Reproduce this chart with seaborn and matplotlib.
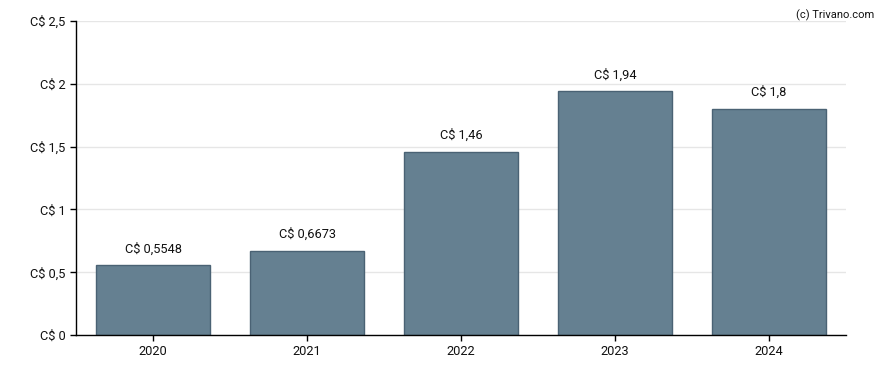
import numpy as np
import pandas as pd
import seaborn as sns
import matplotlib.pyplot as plt

years = ['2020', '2021', '2022', '2023', '2024']
values = [0.5548, 0.6673, 1.46, 1.94, 1.8]
labels = ['C$ 0,5548', 'C$ 0,6673', 'C$ 1,46', 'C$ 1,94', 'C$ 1,8']
yticks = [0, 0.5, 1, 1.5, 2, 2.5]
ytick_labels = ['C$ 0', 'C$ 0,5', 'C$ 1', 'C$ 1,5', 'C$ 2', 'C$ 2,5']

sns.set_style('white')
plt.rcParams['font.family'] = ['Roboto', 'DejaVu Sans']

df = pd.DataFrame({'year': years, 'value': values})

fig = plt.figure(figsize=(8.88, 3.70), dpi=100)
ax = fig.add_axes([0.0856, 0.0946, 0.8671, 0.8486])

sns.barplot(data=df, x='year', y='value', color='#658091', saturation=1,
            edgecolor='#4a6274', linewidth=1, width=0.74, ax=ax, zorder=2)

for i, (v, t) in enumerate(zip(values, labels)):
    ax.text(i, v + 0.08, t, ha='center', va='bottom', fontsize=9.2, color='#111111')

ax.set_xlim(-0.5, 4.5)
ax.set_ylim(0, 2.5)
ax.set_yticks(yticks)
ax.set_yticklabels(ytick_labels)
ax.yaxis.grid(True, color='#e6e6e6', linewidth=1, zorder=0)
ax.set_axisbelow(True)
ax.set_xlabel('')
ax.set_ylabel('')
for s in ['top', 'right']:
    ax.spines[s].set_visible(False)
for s in ['left', 'bottom']:
    ax.spines[s].set_color('black')
    ax.spines[s].set_linewidth(1)
ax.tick_params(axis='both', which='both', direction='out', length=4, width=1,
               color='black', labelsize=9.2, labelcolor='#111111', left=True, bottom=True)

fig.text(0.985, 0.975, '(c) Trivano.com', ha='right', va='top', fontsize=8, color='#111111')

fig.savefig('out.png', dpi=100)
